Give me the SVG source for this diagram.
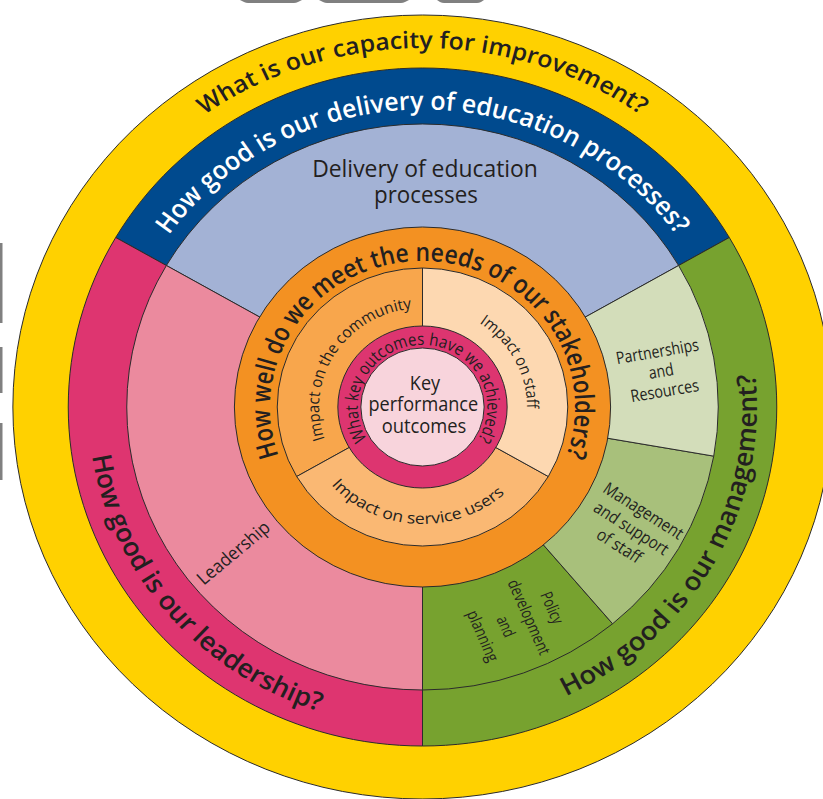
<svg xmlns="http://www.w3.org/2000/svg" width="823" height="799" viewBox="0 0 823 799">
  <style>
    .ol { stroke:#2b2b2b; stroke-width:1; vector-effect:non-scaling-stroke; stroke-linejoin:round; }
    .t { font-family:"Open Sans","Noto Sans","Liberation Sans",sans-serif; fill:#231f20; }
    .cap { font-weight:600; }
    .tw { fill:#ffffff; font-weight:600; }
    .gray { fill:#808080; }
  </style>
  <defs>
    <!-- baseline arcs for the ring captions, in wheel coordinates -->
    <path id="p-improve" d="M-275.01,-230.76 A359,359 0 0 1 275.01,-230.76"/>
    <path id="p-delivery" d="M-279.56,-101.75 A297.5,297.5 0 0 1 279.56,-101.75"/>
    <path id="p-leader" d="M-318.13,-34.56 A320,320 0 0 0 -16.75,319.56"/>
    <path id="p-manage" d="M57.77,314.74 A320,320 0 0 0 298.75,-114.68"/>
    <path id="p-stake" d="M-73,126.44 A146,146 0 1 1 73,126.44"/>
    <path id="p-community" d="M-81.59,56.07 A99,99 0 0 1 16.34,-97.64"/>
    <path id="p-staff" d="M30.9,-95.11 A100,100 0 0 1 96.13,27.56"/>
    <path id="p-service" d="M-104.48,52.66 A117,117 0 0 0 98.41,63.28"/>
    <path id="p-achieved" d="M-21.2,58.27 A62,62 0 1 1 21.2,58.27"/>
  </defs>

  <rect width="823" height="799" fill="#ffffff"/>

  <!-- cropped page furniture along the edges -->
  <g id="edge-marks">
    <path class="gray" d="M240,0 H302 L298,2 Q296,3 294,3 H248 Q246,3 244,2 Z"/>
    <path class="gray" d="M319,0 H409 L405,2 Q403,3 401,3 H327 Q325,3 323,2 Z"/>
    <path class="gray" d="M437,0 H484 L481,2 Q479,3 477,3 H444 Q442,3 440,2 Z"/>
    <rect class="gray" x="0" y="243" width="2.5" height="80"/>
    <rect class="gray" x="0" y="347" width="2.5" height="46"/>
    <rect class="gray" x="0" y="423" width="2.5" height="57"/>
  </g>

  <g id="wheel" transform="translate(422.5 407) scale(1.045 1)">
    <g id="improvement">
      <circle class="ol" r="392" fill="#FFD100"/>
      <text class="t cap" font-size="23.5" text-anchor="middle"><textPath href="#p-improve" startOffset="50%" textLength="445" lengthAdjust="spacingAndGlyphs">What is our capacity for improvement?</textPath></text>
    </g>

    <g id="delivery-question">
      <path class="ol" fill="#004A8E" d="M0,0 L293.58,-169.5 A339,339 0 0 0 -293.58,-169.5 Z"/>
      <text class="t tw" font-size="25.5" text-anchor="middle"><textPath href="#p-delivery" startOffset="50%" textLength="568" lengthAdjust="spacingAndGlyphs">How good is our delivery of education processes?</textPath></text>
    </g>

    <g id="leadership-question">
      <path class="ol" fill="#DE3570" d="M0,0 L-293.58,-169.5 A339,339 0 0 0 0,339 Z"/>
      <text class="t cap" font-size="25.5" text-anchor="middle"><textPath href="#p-leader" startOffset="50%" textLength="353" lengthAdjust="spacingAndGlyphs">How good is our leadership?</textPath></text>
    </g>

    <g id="management-question">
      <path class="ol" fill="#77A22F" d="M0,0 L0,339 A339,339 0 0 0 293.58,-169.5 Z"/>
      <text class="t cap" font-size="25.5" text-anchor="middle"><textPath href="#p-manage" startOffset="50%" textLength="394" lengthAdjust="spacingAndGlyphs">How good is our management?</textPath></text>
    </g>

    <g id="delivery-processes">
      <path class="ol" fill="#A3B2D5" d="M0,0 L245.09,-141.5 A283,283 0 0 0 -245.09,-141.5 Z"/>
      <text class="t" font-size="24" text-anchor="middle" x="2.4" y="-230" textLength="216" lengthAdjust="spacingAndGlyphs">Delivery of education</text>
      <text class="t" font-size="24" text-anchor="middle" x="3.3" y="-204" textLength="99.5" lengthAdjust="spacingAndGlyphs">processes</text>
    </g>

    <g id="leadership">
      <path class="ol" fill="#EB8A9E" d="M0,0 L-245.09,-141.5 A283,283 0 0 0 0,283 Z"/>
      <text class="t" font-size="18" text-anchor="middle" transform="translate(-180.8 146) rotate(-41)" y="6" textLength="86" lengthAdjust="spacingAndGlyphs">Leadership</text>
    </g>

    <g id="policy">
      <path class="ol" fill="#77A22F" d="M0,0 L0,283 A283,283 0 0 0 181.91,216.79 Z"/>
      <g class="t" font-size="16" text-anchor="middle" transform="translate(90.4 215) rotate(67)">
        <text y="-31" textLength="33" lengthAdjust="spacingAndGlyphs">Policy</text>
        <text y="-7" textLength="80" lengthAdjust="spacingAndGlyphs">development</text>
        <text y="17" textLength="21" lengthAdjust="spacingAndGlyphs">and</text>
        <text y="41" textLength="54" lengthAdjust="spacingAndGlyphs">planning</text>
      </g>
    </g>

    <g id="management-support">
      <path class="ol" fill="#A8C07B" d="M0,0 L181.91,216.79 A283,283 0 0 0 278.70,49.14 Z"/>
      <g class="t" font-size="17" text-anchor="middle" transform="translate(199.5 122) rotate(33.5)">
        <text y="-16" textLength="88" lengthAdjust="spacingAndGlyphs">Management</text>
        <text y="5" textLength="82" lengthAdjust="spacingAndGlyphs">and support</text>
        <text y="26" textLength="48" lengthAdjust="spacingAndGlyphs">of staff</text>
      </g>
    </g>

    <g id="partnerships">
      <path class="ol" fill="#D3DDBA" d="M0,0 L278.70,49.14 A283,283 0 0 0 245.09,-141.5 Z"/>
      <g class="t" font-size="17" text-anchor="middle" transform="translate(228.2 -36) rotate(-10)">
        <text y="-14" textLength="80" lengthAdjust="spacingAndGlyphs">Partnerships</text>
        <text y="6" textLength="24" lengthAdjust="spacingAndGlyphs">and</text>
        <text y="26" textLength="66" lengthAdjust="spacingAndGlyphs">Resources</text>
      </g>
    </g>

    <g id="stakeholders">
      <circle class="ol" r="180" fill="#F39122"/>
      <text class="t cap" font-size="25.5" text-anchor="middle"><textPath href="#p-stake" startOffset="50%" textLength="558" lengthAdjust="spacingAndGlyphs">How well do we meet the needs of our stakeholders?</textPath></text>
    </g>

    <g id="community">
      <path class="ol" fill="#F8A64C" d="M0,0 L0,-139 A139,139 0 0 0 -120.38,69.5 Z"/>
      <text class="t" font-size="15.5" text-anchor="middle"><textPath href="#p-community" startOffset="50%" textLength="178" lengthAdjust="spacingAndGlyphs">Impact on the community</textPath></text>
    </g>

    <g id="service-users">
      <path class="ol" fill="#FAB873" d="M0,0 L-120.38,69.5 A139,139 0 0 0 120.38,69.5 Z"/>
      <text class="t" font-size="15.5" text-anchor="middle"><textPath href="#p-service" startOffset="50%" textLength="185" lengthAdjust="spacingAndGlyphs">Impact on service users</textPath></text>
    </g>

    <g id="staff">
      <path class="ol" fill="#FDD8B1" d="M0,0 L120.38,69.5 A139,139 0 0 0 0,-139 Z"/>
      <text class="t" font-size="15.5" text-anchor="middle"><textPath href="#p-staff" startOffset="50%" textLength="101" lengthAdjust="spacingAndGlyphs">Impact on staff</textPath></text>
    </g>

    <g id="outcomes-question">
      <circle class="ol" r="81" fill="#DD3570"/>
      <text class="t" font-size="17" text-anchor="middle"><textPath href="#p-achieved" startOffset="50%" textLength="262" lengthAdjust="spacingAndGlyphs">What key outcomes have we achieved?</textPath></text>
    </g>

    <g id="key-outcomes">
      <circle class="ol" r="59" fill="#F8D4DC"/>
      <text class="t" font-size="20" text-anchor="middle" x="2.4" y="-17" textLength="29" lengthAdjust="spacingAndGlyphs">Key</text>
      <text class="t" font-size="20" text-anchor="middle" x="0.8" y="4" textLength="105" lengthAdjust="spacingAndGlyphs">performance</text>
      <text class="t" font-size="20" text-anchor="middle" x="1.4" y="26" textLength="81" lengthAdjust="spacingAndGlyphs">outcomes</text>
    </g>
  </g>
</svg>
